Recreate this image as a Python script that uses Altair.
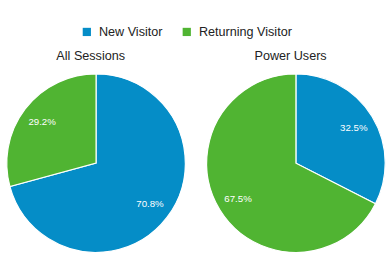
import altair as alt
import pandas as pd

groups = ["All Sessions", "Power Users"]
visitor_types = ["New Visitor", "Returning Visitor"]
new_pct = [70.8, 32.5]
returning_pct = [29.2, 67.5]

FONT = "Liberation Sans"
COLORS = ["#058dc7", "#50b432"]


def panel(g, n, r):
    df = pd.DataFrame(
        {
            "type": visitor_types,
            "pct": [n, r],
            "label": [f"{n:.1f}%", f"{r:.1f}%"],
        }
    )
    base = alt.Chart(df).encode(
        theta=alt.Theta("pct:Q", stack=True),
        order=alt.Order("type:N"),
    )
    legend = alt.Legend(
        title=None,
        orient="none",
        direction="horizontal",
        legendX=76,
        legendY=-50,
        symbolType="square",
        symbolSize=72,
        symbolStrokeWidth=0,
        labelFontSize=13,
        labelFont=FONT,
        labelColor="#222222",
        columnPadding=18,
        labelOffset=6,
    )
    arc = base.mark_arc(outerRadius=92, stroke="white", strokeWidth=1.2).encode(
        color=alt.Color(
            "type:N",
            scale=alt.Scale(domain=visitor_types, range=COLORS),
            legend=legend,
        )
    )
    text = base.mark_text(radius=70, fontSize=10, font=FONT, color="white").encode(
        text="label:N"
    )
    return alt.layer(arc, text).properties(
        width=184,
        height=184,
        title=alt.TitleParams(
            g,
            fontSize=13,
            font=FONT,
            color="#222222",
            fontWeight="normal",
            anchor="middle",
            dx=-5.5,
            offset=9,
        ),
    )


panels = [panel(g, n, r) for g, n, r in zip(groups, new_pct, returning_pct)]

chart = (
    alt.hconcat(*panels, spacing=16)
    .resolve_scale(color="shared")
    .properties(padding={"left": 4, "top": 22, "right": 3, "bottom": 13})
    .configure_view(stroke=None)
    .configure(background="white")
)

chart.save("out.html", embed_options={"renderer": "svg", "actions": False})
